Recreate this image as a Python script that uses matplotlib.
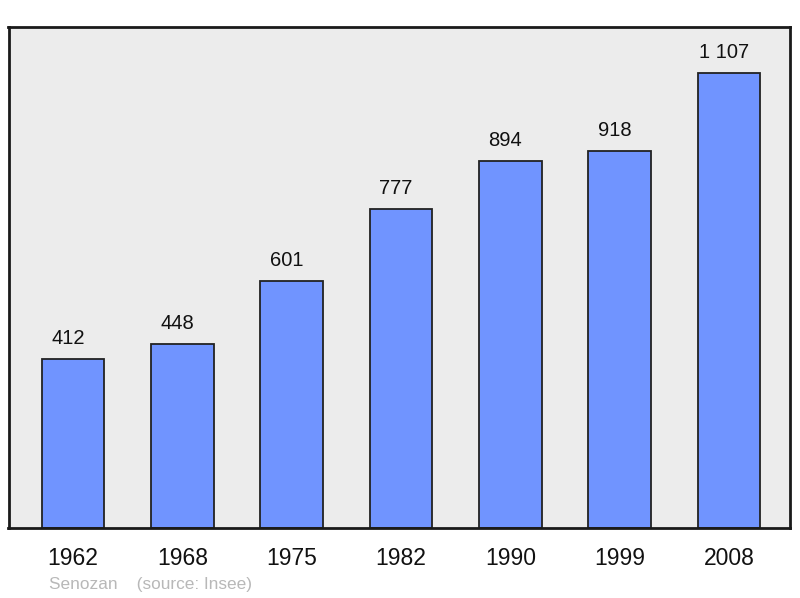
import matplotlib.pyplot as plt
import numpy as np

plt.rcParams['font.family'] = ['Liberation Sans', 'DejaVu Sans']

years = ["1962", "1968", "1975", "1982", "1990", "1999", "2008"]
population = [412, 448, 601, 777, 894, 918, 1107]
value_labels = ["412", "448", "601", "777", "894", "918", "1 107"]

fig = plt.figure(figsize=(8, 5.98), dpi=100)
ax = fig.add_axes([8.5 / 800, 70 / 598, 781.5 / 800, 501 / 598])
ax.set_facecolor("#ececec")

x = np.arange(len(years))
bars = ax.bar(x, population, width=0.576, color="#7094ff",
              edgecolor="#222222", linewidth=1.3, zorder=2)

# value labels sit a little left of the bar centre in the original
for xi, val, lab in zip(x, population, value_labels):
    ax.annotate(lab, (xi, val), xytext=(-5, 15), textcoords="offset pixels",
                ha="center", va="baseline", fontsize=14.5, color="#111111")

ax.set_xlim(-0.59, len(years) - 1 + 0.558)
ax.set_ylim(0, 1219)
ax.set_yticks([])
ax.set_xticks(x)
ax.set_xticklabels(years, fontsize=16.5, color="#111111")
ax.tick_params(axis="x", length=0, pad=14)

for s in ax.spines.values():
    s.set_linewidth(2)
    s.set_color("#1a1a1a")

fig.text(49 / 800, 1 - 584 / 598, "Senozan    (source: Insee)", color="#b8b8b8",
         fontsize=12.4, ha="left", va="center")

fig.savefig("out.png", dpi=100)
